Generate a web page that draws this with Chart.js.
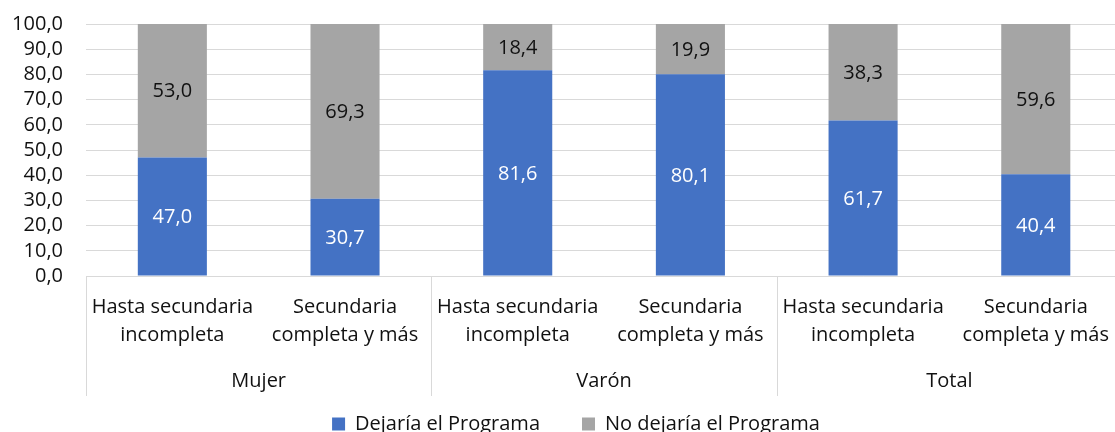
<!DOCTYPE html>
<html>
<head>
<meta charset="utf-8">
<script src="https://cdn.jsdelivr.net/npm/chart.js@4/dist/chart.umd.min.js"></script>
<style>
html,body{margin:0;padding:0;overflow:hidden;background:#fff;}
#wrap{width:1115px;height:432px;overflow:hidden;position:relative;}
canvas{position:absolute;left:0;top:0;}
</style>
</head>
<body>
<div id="wrap"><canvas id="c" width="1126" height="432" style="width:1126px;height:432px"></canvas></div>
<script>
const groups = ['Mujer', 'Varón', 'Total'];
const levels = [['Hasta secundaria', 'incompleta'], ['Secundaria', 'completa y más']];
const seriesNames = ['Dejaría el Programa', 'No dejaría el Programa'];
const dejaria = [47.0, 30.7, 81.6, 80.1, 61.7, 40.4];
const noDejaria = [53.0, 69.3, 18.4, 19.9, 38.3, 59.6];
const yTicks = [0, 10, 20, 30, 40, 50, 60, 70, 80, 90, 100];

const labels = [];
groups.forEach(() => levels.forEach(l => labels.push(l)));

const FONT = "'Open Sans', sans-serif";
const fmt = v => v.toFixed(1).replace('.', ',');

// widest y label width, so mirrored ticks can be right-aligned at a fixed gap left of the plot
const mctx = document.createElement('canvas').getContext('2d');
mctx.font = '20px ' + FONT;
const widestY = Math.max(...yTicks.map(v => mctx.measureText(fmt(v)).width));

const valueLabels = {
  id: 'valueLabels',
  afterDatasetsDraw(chart) {
    const ctx = chart.ctx;
    ctx.save();
    ctx.font = '20px ' + FONT;
    ctx.textAlign = 'center';
    ctx.textBaseline = 'middle';
    chart.data.datasets.forEach((ds, di) => {
      const meta = chart.getDatasetMeta(di);
      meta.data.forEach((el, i) => {
        const cy = (el.y + el.base) / 2;
        ctx.fillStyle = di === 0 ? '#ffffff' : '#111111';
        ctx.fillText(fmt(ds.data[i]), el.x, cy + 1);
      });
    });
    ctx.restore();
  }
};

const groupAxis = {
  id: 'groupAxis',
  afterDraw(chart) {
    const ctx = chart.ctx;
    const xs = chart.scales.x;
    const area = chart.chartArea;
    const per = levels.length;
    const bounds = [area.left];
    for (let g = 1; g < groups.length; g++) {
      const a = xs.getPixelForValue(g * per - 1);
      const b = xs.getPixelForValue(g * per);
      bounds.push((a + b) / 2);
    }
    bounds.push(area.right);
    ctx.save();
    ctx.strokeStyle = '#d9d9d9';
    ctx.lineWidth = 1;
    bounds.forEach(x => {
      const px = Math.round(x) + 0.5;
      ctx.beginPath();
      ctx.moveTo(px, area.bottom);
      ctx.lineTo(px, 396);
      ctx.stroke();
    });
    ctx.font = '20px ' + FONT;
    ctx.fillStyle = '#111111';
    ctx.textAlign = 'center';
    ctx.textBaseline = 'middle';
    groups.forEach((g, i) => {
      ctx.fillText(g, (bounds[i] + bounds[i + 1]) / 2, 381);
    });
    ctx.restore();
  }
};

new Chart(document.getElementById('c'), {
  type: 'bar',
  data: {
    labels: labels,
    datasets: [
      { label: seriesNames[0], data: dejaria, backgroundColor: '#4472C4', borderWidth: 0 },
      { label: seriesNames[1], data: noDejaria, backgroundColor: '#A5A5A5', borderWidth: 0 }
    ]
  },
  options: {
    responsive: false,
    animation: false,
    devicePixelRatio: 1,
    layout: { padding: { left: 26, right: 0, top: 24, bottom: -12 } },
    datasets: { bar: { categoryPercentage: 1.0, barPercentage: 0.4 } },
    plugins: {
      legend: {
        position: 'bottom',
        labels: {
          font: { family: FONT, size: 20 },
          color: '#111111',
          boxWidth: 13,
          boxHeight: 13,
          padding: 42
        }
      },
      tooltip: { enabled: false }
    },
    scales: {
      x: {
        stacked: true,
        grid: { display: false, drawTicks: false },
        border: { display: false },
        ticks: {
          autoSkip: false,
          maxRotation: 0,
          minRotation: 0,
          padding: 17,
          color: '#111111',
          font: { family: FONT, size: 20, lineHeight: 1.4 }
        },
        afterFit(scale) { scale.height = 96; }
      },
      y: {
        stacked: true,
        min: 0,
        max: 100,
        afterBuildTicks(scale) { scale.ticks = yTicks.map(v => ({ value: v })); },
        grid: { color: '#d9d9d9', drawTicks: false },
        border: { display: false },
        ticks: {
          autoSkip: false,
          mirror: true,
          crossAlign: 'far',
          padding: -23 - widestY,
          color: '#111111',
          font: { family: FONT, size: 20 },
          callback: v => fmt(v)
        },
        afterFit(scale) { scale.width = 60; }
      }
    }
  },
  plugins: [valueLabels, groupAxis]
});
</script>
</body>
</html>
